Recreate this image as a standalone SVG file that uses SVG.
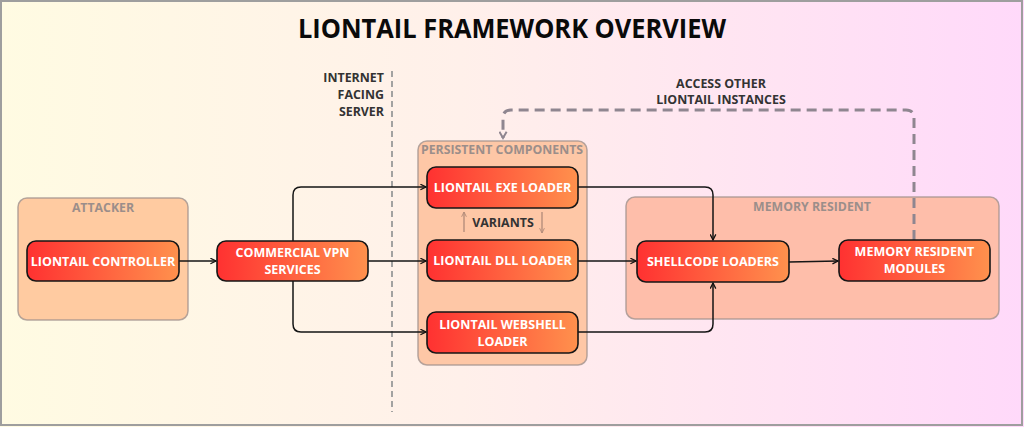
<svg xmlns="http://www.w3.org/2000/svg" width="1024" height="427" viewBox="0 0 1024 427">
<defs>
<linearGradient id="bg" x1="0" y1="0" x2="1" y2="0">
<stop offset="0" stop-color="#fffbe2"/>
<stop offset="0.45" stop-color="#fff0ea"/>
<stop offset="1" stop-color="#ffd9fa"/>
</linearGradient>
<linearGradient id="node" x1="0" y1="0" x2="1" y2="0">
<stop offset="0" stop-color="#ff3131"/>
<stop offset="1" stop-color="#ff914d"/>
</linearGradient>
<marker id="ah" viewBox="0 0 10 10" refX="9" refY="5" markerWidth="7" markerHeight="7" markerUnits="userSpaceOnUse" orient="auto">
<path d="M1,1 L9,5 L1,9" fill="none" stroke="#111" stroke-width="1.8"/>
</marker>
<marker id="ahd" viewBox="0 0 10 10" refX="8" refY="5" markerWidth="9" markerHeight="9" markerUnits="userSpaceOnUse" orient="auto">
<path d="M1,1 L8,5 L1,9" fill="none" stroke="#8f8690" stroke-width="2.2"/>
</marker>
<marker id="ahv" viewBox="0 0 10 10" refX="9" refY="5" markerWidth="6" markerHeight="6" markerUnits="userSpaceOnUse" orient="auto">
<path d="M1,1 L9,5 L1,9" fill="none" stroke="#b08a78" stroke-width="1.5"/>
</marker>
</defs>
<style>
.grp{stroke:#a3948e;stroke-width:1.5;stroke-opacity:0.8}
.glabel{font-family:"Open Sans","Liberation Sans",sans-serif;font-weight:700;font-size:12.3px;fill:#9b8e8a;text-anchor:middle}
.nd{fill:url(#node);stroke:#161616;stroke-width:1.6}
.nt{font-family:"Open Sans","Liberation Sans",sans-serif;font-weight:700;font-size:12.5px;fill:#ffffff;text-anchor:middle}
.lbl{font-family:"Open Sans","Liberation Sans",sans-serif;font-weight:700;font-size:12.4px;fill:#333333}
.conn{fill:none;stroke:#151515;stroke-width:1.5;marker-end:url(#ah)}
</style>
<rect x="0" y="0" width="1024" height="427" fill="url(#bg)"/>
<rect x="1" y="1" width="1021" height="424" fill="none" stroke="#9e9e9e" stroke-width="2"/>
<text x="512" y="38" font-family="'Open Sans','Liberation Sans',sans-serif" font-weight="700" font-size="26" fill="#0a0a0a" text-anchor="middle" textLength="428" lengthAdjust="spacingAndGlyphs">LIONTAIL FRAMEWORK OVERVIEW</text>

<line x1="392" y1="71" x2="392" y2="412" stroke="#9a9a9a" stroke-width="1.8" stroke-dasharray="6,4"/>
<text class="lbl" text-anchor="end"><tspan x="384" y="82">INTERNET</tspan><tspan x="384" y="99">FACING</tspan><tspan x="384" y="116">SERVER</tspan></text>

<g id="group-attacker">
<rect class="grp" x="18" y="198" width="170" height="122" rx="9" fill="#ffcba1"/>
<text class="glabel" x="103" y="212">ATTACKER</text>
</g>
<g id="group-persistent">
<rect class="grp" x="418" y="141" width="169" height="224" rx="9" fill="#fec7a6"/>
<text class="glabel" x="502" y="154">PERSISTENT COMPONENTS</text>
</g>
<g id="group-memory">
<rect class="grp" x="626" y="197" width="373" height="122" rx="9" fill="#febeaa"/>
<text class="glabel" x="812" y="211">MEMORY RESIDENT</text>
</g>

<g id="connectors">
<path class="conn" d="M179,261 L216,261"/>
<path class="conn" d="M293,241 L293,195 Q293,187 301,187 L426,187"/>
<path class="conn" d="M368,261 L426,261"/>
<path class="conn" d="M293,281 L293,324 Q293,332 301,332 L426,332"/>
<path class="conn" d="M578,187 L705,187 Q713,187 713,195 L713,240"/>
<path class="conn" d="M578,261 L636,261"/>
<path class="conn" d="M578,332 L705,332 Q713,332 713,324 L713,283"/>
<path class="conn" d="M789,262 L838,261"/>
<path d="M914,240 L914,118 Q914,110 906,110 L511,110 Q503,110 503,118 L503,138" fill="none" stroke="#8f8690" stroke-width="3" stroke-dasharray="10,6" marker-end="url(#ahd)"/>
<line x1="464" y1="232" x2="464" y2="212" stroke="#b08a78" stroke-width="1.3" marker-end="url(#ahv)"/>
<line x1="542" y1="212" x2="542" y2="233" stroke="#b08a78" stroke-width="1.3" marker-end="url(#ahv)"/>
</g>

<text class="lbl" x="503" y="227" text-anchor="middle">VARIANTS</text>
<text class="lbl" text-anchor="middle"><tspan x="721" y="88">ACCESS OTHER</tspan><tspan x="721" y="104">LIONTAIL INSTANCES</tspan></text>

<g id="node-controller">
<rect class="nd" x="27" y="241" width="152" height="40" rx="9"/>
<text class="nt" x="103" y="265.5">LIONTAIL CONTROLLER</text>
</g>
<g id="node-vpn">
<rect class="nd" x="217" y="241" width="151" height="40" rx="9"/>
<text class="nt"><tspan x="292.5" y="257">COMMERCIAL VPN</tspan><tspan x="292.5" y="274">SERVICES</tspan></text>
</g>
<g id="node-exe">
<rect class="nd" x="427" y="167" width="151" height="41" rx="9"/>
<text class="nt" x="502.5" y="192">LIONTAIL EXE LOADER</text>
</g>
<g id="node-dll">
<rect class="nd" x="427" y="240" width="151" height="41" rx="9"/>
<text class="nt" x="502.5" y="265">LIONTAIL DLL LOADER</text>
</g>
<g id="node-webshell">
<rect class="nd" x="427" y="312" width="151" height="41" rx="9"/>
<text class="nt"><tspan x="502.5" y="329">LIONTAIL WEBSHELL</tspan><tspan x="502.5" y="346">LOADER</tspan></text>
</g>
<g id="node-shellcode">
<rect class="nd" x="637" y="241" width="152" height="41" rx="9"/>
<text class="nt" x="713" y="266">SHELLCODE LOADERS</text>
</g>
<g id="node-modules">
<rect class="nd" x="839" y="240" width="151" height="41" rx="9"/>
<text class="nt"><tspan x="914.5" y="256">MEMORY RESIDENT</tspan><tspan x="914.5" y="273">MODULES</tspan></text>
</g>
</svg>
